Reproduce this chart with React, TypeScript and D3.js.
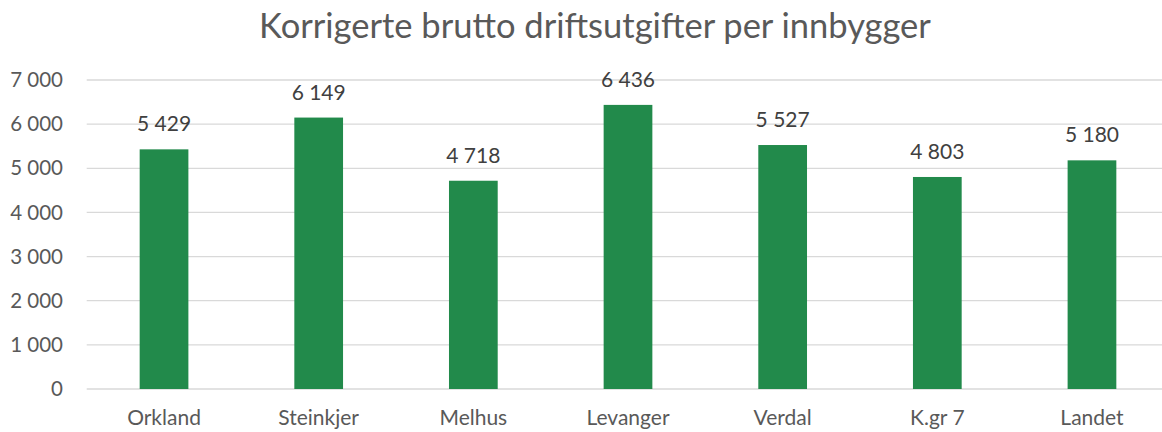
import React from "react";
import * as d3 from "d3";

const categories = ["Orkland", "Steinkjer", "Melhus", "Levanger", "Verdal", "K.gr 7", "Landet"];
const values = [5429, 6149, 4718, 6436, 5527, 4803, 5180];
const yTicks = [0, 1000, 2000, 3000, 4000, 5000, 6000, 7000];
const title = "Korrigerte brutto driftsutgifter per innbygger";

const W = 1162;
const H = 432;
const margin = { left: 86.7, right: -7.3, top: 80, bottom: 43 };

const locale = d3.formatLocale({ decimal: ",", thousands: " ", grouping: [3], currency: ["", " kr"] });
const fmt = locale.format(",d");

export default function App() {
  const x = d3
    .scaleBand<string>()
    .domain(categories)
    .range([margin.left, W - margin.right])
    .paddingInner(0.685)
    .paddingOuter(0.3425);
  const y = d3.scaleLinear().domain([0, 7000]).range([H - margin.bottom, margin.top]);
  const font = "Lato, 'Open Sans', sans-serif";

  return (
    <svg width={W} height={H} style={{ display: "block", position: "absolute", left: 0, top: 0 }} fontFamily={font}>
      <rect width={W} height={H} fill="#ffffff" />
      <text x={595} y={38} textAnchor="middle" fontSize={34.5} fill="#595959">
        {title}
      </text>
      {yTicks.map((t) => (
        <g key={t}>
          <line x1={margin.left} x2={W} y1={y(t)} y2={y(t)} stroke="#d9d9d9" strokeWidth={1.3} />
          <text x={63} y={y(t)} dy="0.35em" textAnchor="end" fontSize={20.5} fill="#595959">
            {fmt(t)}
          </text>
        </g>
      ))}
      {categories.map((c, i) => (
        <g key={c}>
          <rect x={x(c)} y={y(values[i])} width={x.bandwidth()} height={y(0) - y(values[i])} fill="#228a4b" />
          <text x={(x(c) as number) + x.bandwidth() / 2} y={y(values[i]) - 18} textAnchor="middle" fontSize={21} fill="#404040">
            {fmt(values[i])}
          </text>
          <text x={(x(c) as number) + x.bandwidth() / 2} y={425} textAnchor="middle" fontSize={21} fill="#595959">
            {c}
          </text>
        </g>
      ))}
    </svg>
  );
}
